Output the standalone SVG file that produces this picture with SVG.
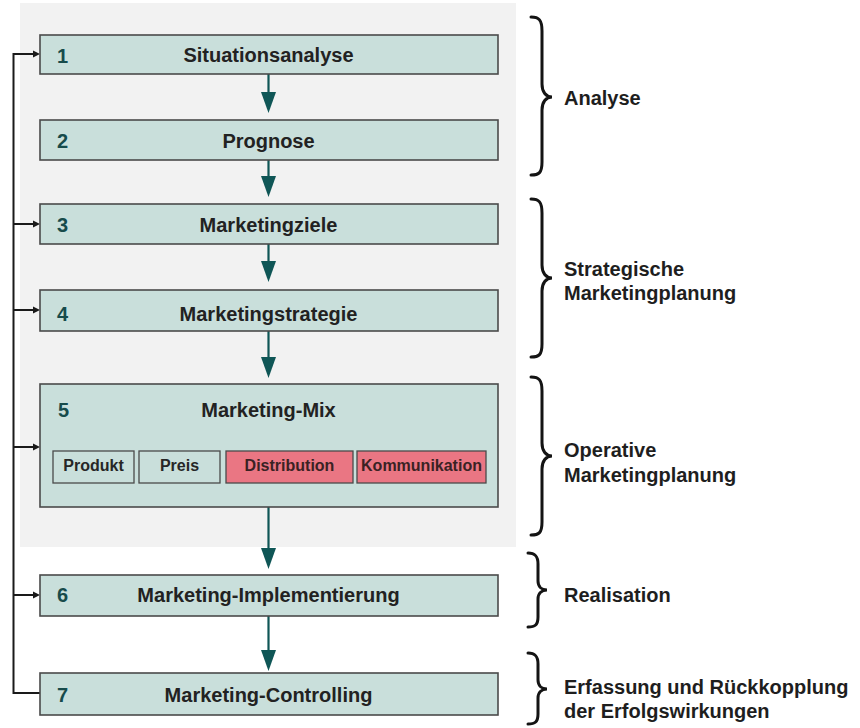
<svg xmlns="http://www.w3.org/2000/svg" width="860" height="728" viewBox="0 0 860 728">
  <style>
    .step { fill: #c9dfdb; stroke: #4a4a4a; stroke-width: 1.6; }
    .sub { fill: #c9dfdb; stroke: #4a4a4a; stroke-width: 1.3; }
    .sub-hot { fill: #ea7683; stroke: #4a4a4a; stroke-width: 1.3; }
    .num { font-family: "Liberation Sans", Arial, sans-serif; font-weight: bold; font-size: 20px; fill: #174b4b; }
    .lbl { font-family: "Liberation Sans", Arial, sans-serif; font-weight: bold; font-size: 20px; fill: #222; text-anchor: middle; }
    .sublbl { font-family: "Liberation Sans", Arial, sans-serif; font-weight: bold; font-size: 16px; fill: #262626; text-anchor: middle; }
    .sublbl-hot { font-family: "Liberation Sans", Arial, sans-serif; font-weight: bold; font-size: 16px; fill: #3a2224; text-anchor: middle; }
    .phase { font-family: "Liberation Sans", Arial, sans-serif; font-weight: bold; font-size: 20px; fill: #1e1e1e; }
    .flow { stroke: #0f5656; stroke-width: 2.2; fill: none; }
    .flowhead { fill: #0f5656; }
    .fb { stroke: #1a1a1a; stroke-width: 2; fill: none; }
    .fbhead { fill: #1a1a1a; }
    .brace { stroke: #141414; stroke-width: 3; fill: none; stroke-linecap: round; }
  </style>

  <rect x="0" y="0" width="860" height="728" fill="#ffffff"/>
  <!-- planning area backdrop -->
  <rect x="20" y="3" width="496" height="544" fill="#f2f2f2"/>

  <!-- connectors -->
  <g id="connectors">
    <!-- main flow, top to bottom -->
    <line class="flow" x1="268.5" y1="74" x2="268.5" y2="95"/>
    <polygon class="flowhead" points="261,92 276,92 268.5,113"/>
    <line class="flow" x1="268.5" y1="160" x2="268.5" y2="180"/>
    <polygon class="flowhead" points="261,176 276,176 268.5,197"/>
    <line class="flow" x1="268.5" y1="244" x2="268.5" y2="265"/>
    <polygon class="flowhead" points="261,261 276,261 268.5,282"/>
    <line class="flow" x1="268.5" y1="331" x2="268.5" y2="360"/>
    <polygon class="flowhead" points="261,357 276,357 268.5,378"/>
    <line class="flow" x1="268.5" y1="507" x2="268.5" y2="552"/>
    <polygon class="flowhead" points="261,548 276,548 268.5,569"/>
    <line class="flow" x1="268.5" y1="616" x2="268.5" y2="654"/>
    <polygon class="flowhead" points="261,650 276,650 268.5,671"/>

    <!-- feedback loop from controlling back to earlier steps -->
    <polyline class="fb" points="40,693 13.5,693 13.5,54 34,54"/>
    <polygon class="fbhead" points="33,50.5 40,54 33,57.5"/>
    <line class="fb" x1="13.5" y1="224" x2="34" y2="224"/>
    <polygon class="fbhead" points="33,220.5 40,224 33,227.5"/>
    <line class="fb" x1="13.5" y1="310" x2="34" y2="310"/>
    <polygon class="fbhead" points="33,306.5 40,310 33,313.5"/>
    <line class="fb" x1="13.5" y1="447" x2="34" y2="447"/>
    <polygon class="fbhead" points="33,443.5 40,447 33,450.5"/>
    <line class="fb" x1="13.5" y1="595" x2="34" y2="595"/>
    <polygon class="fbhead" points="33,591.5 40,595 33,598.5"/>
  </g>

  <g id="step1">
    <rect class="step" x="40" y="35" width="458" height="39"/>
    <text class="num" x="57" y="63">1</text>
    <text class="lbl" x="268.5" y="62">Situationsanalyse</text>
  </g>
  <g id="step2">
    <rect class="step" x="40" y="120" width="458" height="40"/>
    <text class="num" x="57" y="148">2</text>
    <text class="lbl" x="268.5" y="148">Prognose</text>
  </g>
  <g id="step3">
    <rect class="step" x="40" y="204" width="458" height="40"/>
    <text class="num" x="57" y="232">3</text>
    <text class="lbl" x="268.5" y="232">Marketingziele</text>
  </g>
  <g id="step4">
    <rect class="step" x="40" y="290" width="458" height="41"/>
    <text class="num" x="57" y="321">4</text>
    <text class="lbl" x="268.5" y="321">Marketingstrategie</text>
  </g>
  <g id="step5">
    <rect class="step" x="40" y="384" width="458" height="123"/>
    <text class="num" x="58" y="417">5</text>
    <text class="lbl" x="268.5" y="417">Marketing-Mix</text>
    <g id="mix-produkt">
      <rect class="sub" x="53" y="451" width="81" height="32"/>
      <text class="sublbl" x="93.5" y="471">Produkt</text>
    </g>
    <g id="mix-preis">
      <rect class="sub" x="139" y="451" width="81" height="32"/>
      <text class="sublbl" x="179.5" y="471">Preis</text>
    </g>
    <g id="mix-distribution">
      <rect class="sub-hot" x="226" y="451" width="127" height="32"/>
      <text class="sublbl-hot" x="289.5" y="471">Distribution</text>
    </g>
    <g id="mix-kommunikation">
      <rect class="sub-hot" x="357" y="451" width="129" height="32"/>
      <text class="sublbl-hot" x="421.5" y="471">Kommunikation</text>
    </g>
  </g>
  <g id="step6">
    <rect class="step" x="40" y="575" width="458" height="41"/>
    <text class="num" x="57" y="602">6</text>
    <text class="lbl" x="268.5" y="602">Marketing-Implementierung</text>
  </g>
  <g id="step7">
    <rect class="step" x="40" y="673" width="458" height="42"/>
    <text class="num" x="57" y="702">7</text>
    <text class="lbl" x="268.5" y="702">Marketing-Controlling</text>
  </g>

  <!-- phase braces and captions -->
  <g id="phase-analyse">
    <path class="brace" d="M531,17 C539,17 542,20 542,31 L542,84 C542,92 546,97 552,97 C546,97 542,102 542,110 L542,162 C542,173 539,175 531,175"/>
    <text class="phase" x="564" y="105">Analyse</text>
  </g>
  <g id="phase-strategisch">
    <path class="brace" d="M531,199 C539,199 542,202 542,213 L542,265 C542,273 546,278 552,278 C546,278 542,283 542,291 L542,344 C542,355 539,357 531,357"/>
    <text class="phase" x="564" y="276">Strategische</text>
    <text class="phase" x="564" y="300">Marketingplanung</text>
  </g>
  <g id="phase-operativ">
    <path class="brace" d="M531,377 C539,377 542,380 542,391 L542,443 C542,451 546,456 552,456 C546,456 542,461 542,469 L542,522 C542,533 539,535 531,535"/>
    <text class="phase" x="564" y="457">Operative</text>
    <text class="phase" x="564" y="482">Marketingplanung</text>
  </g>
  <g id="phase-realisation">
    <path class="brace" d="M528,553 C535,553 538,556 538,564 L538,581 C538,587 542,590 547,590 C542,590 538,593 538,599 L538,617 C538,625 535,627 528,627"/>
    <text class="phase" x="564" y="602">Realisation</text>
  </g>
  <g id="phase-controlling">
    <path class="brace" d="M528,653 C535,653 538,656 538,664 L538,680 C538,686 542,689 547,689 C542,689 538,692 538,698 L538,714 C538,722 535,724 528,724"/>
    <text class="phase" x="564" y="694">Erfassung und Rückkopplung</text>
    <text class="phase" x="564" y="718">der Erfolgswirkungen</text>
  </g>
</svg>
